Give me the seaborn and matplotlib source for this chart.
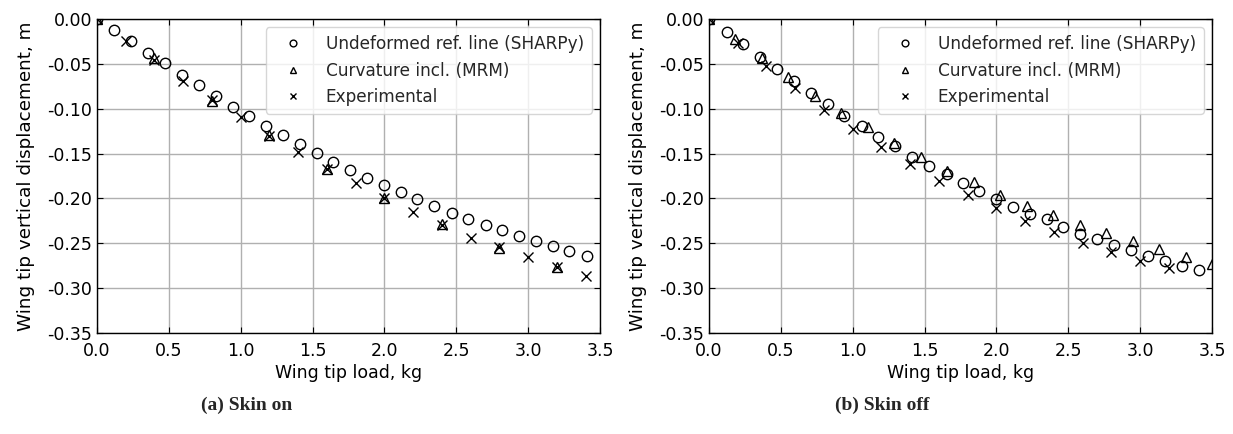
import matplotlib
matplotlib.use("Agg")
import matplotlib.pyplot as plt
import seaborn as sns
import pandas as pd

# ---------------- data ----------------
# (a) Skin on
on_sharpy_x = [0.0, 0.12, 0.24, 0.357, 0.473, 0.594, 0.708, 0.826, 0.944, 1.06, 1.176,
               1.297, 1.413, 1.529, 1.645, 1.76, 1.88, 2.0, 2.115, 2.23, 2.347, 2.468,
               2.584, 2.705, 2.82, 2.937, 3.055, 3.171, 3.287, 3.407]
on_sharpy_y = [0.0, -0.0123, -0.025, -0.0375, -0.049, -0.062, -0.074, -0.086, -0.098, -0.108,
               -0.119, -0.129, -0.139, -0.149, -0.159, -0.168, -0.177, -0.185, -0.193, -0.201,
               -0.2085, -0.216, -0.2226, -0.2293, -0.2356, -0.242, -0.2475, -0.2535, -0.2587, -0.2642]
on_mrm_x = [0.0, 0.4, 0.8, 1.2, 1.6, 2.0, 2.4, 2.8, 3.2]
on_mrm_y = [0.0, -0.044, -0.091, -0.129, -0.167, -0.2, -0.229, -0.255, -0.276]
on_exp_x = [0.0, 0.2, 0.4, 0.6, 0.8, 1.0, 1.2, 1.4, 1.6, 1.8, 2.0, 2.2, 2.4, 2.6, 2.8, 3.0, 3.2, 3.4]
on_exp_y = [0.0, -0.025, -0.0457, -0.069, -0.090, -0.1096, -0.130, -0.1487, -0.167, -0.183,
            -0.2, -0.2148, -0.2297, -0.2445, -0.2545, -0.2657, -0.2768, -0.2865]

# (b) Skin off
off_sharpy_x = [0.0, 0.123, 0.239, 0.355, 0.475, 0.594, 0.71, 0.826, 0.942, 1.063, 1.178,
                1.295, 1.41, 1.532, 1.654, 1.765, 1.88, 1.997, 2.113, 2.234, 2.35, 2.466,
                2.58, 2.7, 2.82, 2.935, 3.057, 3.174, 3.29, 3.408]
off_sharpy_y = [0.0, -0.0141, -0.0282, -0.042, -0.056, -0.069, -0.082, -0.095, -0.108, -0.119,
                -0.131, -0.142, -0.1535, -0.1635, -0.173, -0.1825, -0.1917, -0.201, -0.209,
                -0.2174, -0.223, -0.232, -0.2397, -0.2456, -0.252, -0.2575, -0.2642, -0.2694,
                -0.275, -0.2798]
off_mrm_x = [0.0, 0.184, 0.368, 0.553, 0.737, 0.921, 1.105, 1.289, 1.474, 1.658, 1.842,
             2.026, 2.211, 2.395, 2.579, 2.763, 2.947, 3.132, 3.316, 3.5]
off_mrm_y = [0.0, -0.0227, -0.044, -0.065, -0.086, -0.1045, -0.1207, -0.1386, -0.1542, -0.169,
             -0.182, -0.196, -0.208, -0.2185, -0.2297, -0.239, -0.247, -0.2564, -0.265, -0.273]
off_exp_x = [0.0, 0.2, 0.4, 0.6, 0.8, 1.0, 1.2, 1.4, 1.6, 1.8, 2.0, 2.2, 2.4, 2.6, 2.8, 3.0, 3.2]
off_exp_y = [0.0, -0.0264, -0.052, -0.077, -0.1015, -0.1226, -0.1425, -0.162, -0.1806, -0.196,
             -0.211, -0.2249, -0.237, -0.2495, -0.2594, -0.2698, -0.2772]

series_labels = ["Undeformed ref. line (SHARPy)", "Curvature incl. (MRM)", "Experimental"]
x_label = "Wing tip load, kg"
y_label = "Wing tip vertical displacement, m"
captions = ["(a) Skin on", "(b) Skin off"]

# ---------------- style ----------------
sns.set_style("whitegrid")
plt.rcParams.update({
    "font.family": ["DejaVu Sans"],
    "axes.edgecolor": "black",
    "axes.linewidth": 1.0,
    "grid.color": "#b0b0b0",
    "grid.linewidth": 1.0,
    "xtick.direction": "in",
    "ytick.direction": "in",
    "xtick.top": True,
    "ytick.right": True,
    "xtick.bottom": True,
    "ytick.left": True,
    "xtick.major.size": 4.5,
    "ytick.major.size": 4.5,
    "xtick.major.pad": 6.5,
    "xtick.color": "black",
    "ytick.color": "black",
    "xtick.labelsize": 12.5,
    "ytick.labelsize": 12.5,
    "axes.labelsize": 12.5,
    "axes.labelcolor": "black",
})

W, H = 1233, 434
fig = plt.figure(figsize=(W / 100, H / 100), dpi=100)
ax1 = fig.add_axes([97 / W, 1 - 333 / H, 503 / W, 314 / H])
ax2 = fig.add_axes([709 / W, 1 - 333 / H, 503 / W, 314 / H])

panels = [
    (ax1, [(on_sharpy_x, on_sharpy_y), (on_mrm_x, on_mrm_y), (on_exp_x, on_exp_y)]),
    (ax2, [(off_sharpy_x, off_sharpy_y), (off_mrm_x, off_mrm_y), (off_exp_x, off_exp_y)]),
]
markers = ["o", "^", "x"]

for ax, data in panels:
    for (xs, ys), mk, lab in zip(data, markers, series_labels):
        df = pd.DataFrame({"x": xs, "y": ys})
        sns.lineplot(data=df, x="x", y="y", ax=ax, linestyle="none", marker=mk,
                     markersize=7.5, markerfacecolor="none", markeredgecolor="black",
                     markeredgewidth=1.0, color="black", label=lab, errorbar=None,
                     sort=False)
    ax.set_xlim(0, 3.5)
    ax.set_ylim(-0.35, 0)
    ax.set_xticks([0.0, 0.5, 1.0, 1.5, 2.0, 2.5, 3.0, 3.5])
    ax.set_yticks([0.0, -0.05, -0.10, -0.15, -0.20, -0.25, -0.30, -0.35])
    ax.yaxis.set_major_formatter(matplotlib.ticker.FormatStrFormatter("%.2f"))
    ax.xaxis.set_major_formatter(matplotlib.ticker.FormatStrFormatter("%.1f"))
    ax.set_xlabel(x_label, labelpad=3)
    ax.set_ylabel(y_label, fontsize=13.2, labelpad=9)
    ax.grid(True)
    for sp in ax.spines.values():
        sp.set_color("black")
        sp.set_zorder(5)
    leg = ax.legend(loc="upper right", fontsize=12.2, markerscale=0.65, frameon=True,
                    framealpha=0.8, edgecolor="#cccccc", fancybox=True,
                    handlelength=2.3, borderpad=0.45)

fig.text(247 / W, 1 - 405 / H, captions[0], ha="center", va="center",
         fontsize=14, fontweight="bold", family="Liberation Serif")
fig.text(882 / W, 1 - 405 / H, captions[1], ha="center", va="center",
         fontsize=14, fontweight="bold", family="Liberation Serif")

fig.savefig("out.png", dpi=100)
